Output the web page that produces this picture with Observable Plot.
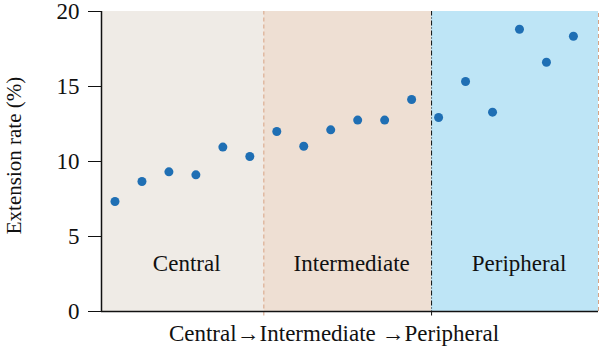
<!DOCTYPE html>
<html>
<head>
<meta charset="utf-8">
<script src="https://cdn.jsdelivr.net/npm/d3@7"></script>
<script src="https://cdn.jsdelivr.net/npm/@observablehq/plot@0.6"></script>
<style>
  html, body { margin: 0; padding: 0; background: #fff; }
  #chart svg { display: block; }
</style>
</head>
<body>
<div id="chart"></div>
<script>
// Data
const sampleIndex = [1,2,3,4,5,6,7,8,9,10,11,12,13,14,15,16,17,18];
const extensionRate = [7.33, 8.67, 9.31, 9.11, 10.96, 10.33, 12.0, 11.02, 12.11, 12.76, 12.76, 14.13, 12.93, 15.33, 13.29, 18.82, 16.62, 18.35];
const zoneNames = ["Central", "Intermediate", "Peripheral"];
const zoneStart = [0.5, 6.52, 12.74];
const zoneEnd = [6.52, 12.74, 18.93];
const zoneColors = ["#EFEBE6", "#EEDFD3", "#BEE5F6"];
const yTicks = [0, 5, 10, 15, 20];
const yLabel = "Extension rate (%)";
const xLabel = "Central\u2192Intermediate \u2192Peripheral";

const points = sampleIndex.map((x, i) => ({x, y: extensionRate[i]}));
const zones = zoneNames.map((name, i) => ({name, x1: zoneStart[i], x2: zoneEnd[i], color: zoneColors[i], mid: (zoneStart[i] + zoneEnd[i]) / 2}));

const chart = Plot.plot({
  width: 600,
  height: 354,
  marginLeft: 101,
  marginRight: 2,
  marginTop: 11,
  marginBottom: 43,
  style: {fontFamily: "'Liberation Serif', 'DejaVu Serif', serif", fontSize: "22px", color: "#111", background: "#fff"},
  x: {domain: [0.5, 18.93], axis: null},
  y: {domain: [0, 20], axis: null},
  marks: [
    Plot.rectY(zones, {x1: "x1", x2: "x2", y1: 0, y2: 20, fill: "color"}),
    Plot.ruleX([zoneStart[1]], {y1: -0.3, y2: 20, stroke: "#D7A385", strokeDasharray: "4,3", strokeWidth: 1}),
    Plot.ruleX([zoneStart[2]], {y1: -0.3, y2: 20, stroke: "#111", strokeDasharray: "5,2,1,2", strokeWidth: 1}),
    Plot.ruleX([zoneEnd[2]], {y1: 0, y2: 20, stroke: "#D7A385", strokeDasharray: "4,3", strokeWidth: 1}),
    Plot.text(zones, {x: "mid", y: 3.2, dx: 4, text: "name", fontSize: 23, fill: "#111"}),
    Plot.dot(points, {x: "x", y: "y", r: 4.5, fill: "#1F6FB4", stroke: null}),
    Plot.ruleY([0], {stroke: "#111", strokeWidth: 1.5}),
    Plot.ruleX([0.5], {stroke: "#111", strokeWidth: 1.5}),
    Plot.axisY({ticks: yTicks, tickSize: 13, tickPadding: 9, label: null, fontSize: 23, stroke: "#111"}),
    Plot.text([yLabel], {frameAnchor: "left", textAnchor: "middle", dx: -87, dy: -6, rotate: -90, fontSize: 21, fill: "#111"}),
    Plot.text([xLabel], {frameAnchor: "bottom", dx: -16, dy: 29, fontSize: 23, fill: "#111"})
  ]
});
document.getElementById("chart").appendChild(chart);
</script>
</body>
</html>
